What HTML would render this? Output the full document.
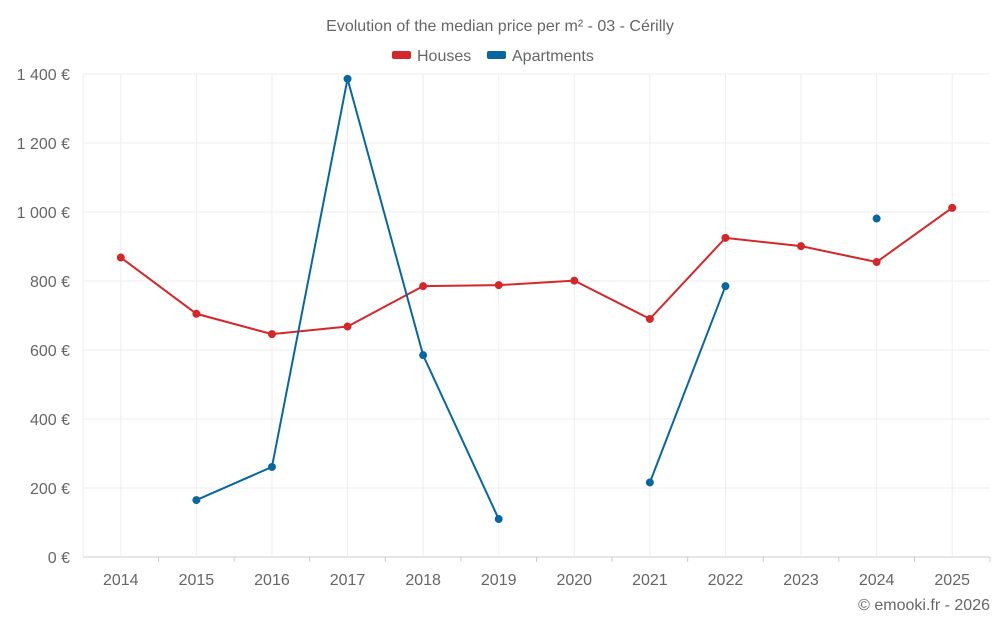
<!DOCTYPE html>
<html><head><meta charset="utf-8"><style>
body{margin:0;background:#fff;font-family:"Liberation Sans",sans-serif}
svg text{font-family:"Liberation Sans",sans-serif;fill:#666}
</style></head><body>
<svg id="c" width="1000" height="625">
<text x="500" y="31" text-anchor="middle" font-size="16">Evolution of the median price per m² - 03 - Cérilly</text>
<g>
<rect x="392" y="51" width="19" height="8" rx="2" fill="#d62728"/>
<text x="417" y="61" font-size="16">Houses</text>
<rect x="487" y="51" width="19" height="8" rx="2" fill="#0867a0"/>
<text x="512" y="61" font-size="16">Apartments</text>
</g>
<text x="990" y="610" text-anchor="end" font-size="16">© emooki.fr - 2026</text>
<g id="g"></g>
</svg>
<script>
const years=[2014,2015,2016,2017,2018,2019,2020,2021,2022,2023,2024,2025];
const houses=[868,705,646,668,785,788,801,690,925,901,855,1012];
const apartments=[null,165,261,1386,585,110,null,216,785,null,981,null];
const yTicks=[0,200,400,600,800,1000,1200,1400];
const yLabels=["0 €","200 €","400 €","600 €","800 €","1 000 €","1 200 €","1 400 €"];
const L=83,R=990,T=74,B=557,yMax=1400;
const step=(R-L)/years.length;
const X=i=>L+step*(i+0.5);
const Y=v=>B-(v/yMax)*(B-T);
const g=document.getElementById('g');
const NS='http://www.w3.org/2000/svg';
function mk(t,a){const e=document.createElementNS(NS,t);for(const k in a)e.setAttribute(k,a[k]);g.appendChild(e);return e;}
yTicks.forEach((v,i)=>{
 const l=mk('line',{x1:L,x2:R,y1:Y(v),y2:Y(v),stroke:v===0?'#ccc':'#eee'});
 
 
 const t=mk('text',{x:70,y:Y(v)+6,'text-anchor':'end','font-size':16});
 t.textContent=yLabels[i];
 
 
});
for(let i=0;i<=years.length;i++){
 const x=i===0?L:X(i-1)+0;
 const l=mk('line',{x1:i===0?L:X(i-1),x2:i===0?L:X(i-1),y1:T,y2:B,stroke:'#eee'});
 
 
}
years.forEach((yr,i)=>{
 const t=mk('text',{x:X(i),y:585,'text-anchor':'middle','font-size':16});
 t.textContent=yr;
 
 
 const k=mk('line',{x1:X(i)+step/2,x2:X(i)+step/2,y1:B,y2:B+5,stroke:'#ccc'});
 
 
});
function series(vals,color,name){
 let d='',pen=false;
 vals.forEach((v,i)=>{if(v==null){pen=false;return;}d+=(pen?'L':'M')+X(i)+' '+Y(v)+' ';pen=true;});
 const p=mk('path',{d:d,fill:'none',stroke:color,'stroke-width':2});
 
 
 vals.forEach((v,i)=>{if(v==null)return;
  const c=mk('circle',{cx:X(i),cy:Y(v),r:4,fill:color});
  
  
 });
}
series(houses,'#d62728','houses');
series(apartments,'#0867a0','apartments');
</script>
</body></html>
